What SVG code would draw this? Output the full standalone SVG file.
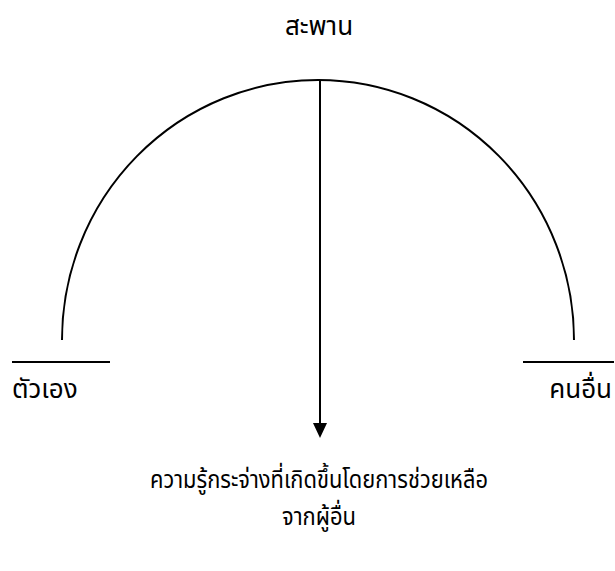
<svg xmlns="http://www.w3.org/2000/svg" width="615" height="571" viewBox="0 0 615 571">
<defs>
<style>
.t{font-family:"Noto Sans Thai","Noto Sans",sans-serif;fill:#000;font-weight:normal}
.s{font-size:26px}
.b{font-size:25px}
.l{stroke:#000;stroke-width:2;fill:none}
</style>
</defs>
<rect width="615" height="571" fill="#fff"/>
<g id="connectors">
<path class="l" d="M62,340 A256,260 0 0 1 574,340"/>
<line class="l" x1="12" y1="362" x2="110" y2="362"/>
<line class="l" x1="523" y1="362" x2="614" y2="362"/>
<line class="l" x1="320" y1="80" x2="320" y2="424"/>
<path d="M313,423 L327,423 L320,438 Z" fill="#000"/>
</g>
<g id="top"><text class="t s" x="319" y="35" text-anchor="middle">สะพาน</text></g>
<g id="left"><text class="t s" x="12" y="398">ตัวเอง</text></g>
<g id="right"><text class="t s" x="612" y="398" text-anchor="end">คนอื่น</text></g>
<g id="bottom">
<text class="t b" x="150" y="488" textLength="338" lengthAdjust="spacingAndGlyphs">ความรู้กระจ่างที่เกิดขึ้นโดยการช่วยเหลือ</text>
<text class="t b" x="282" y="525" textLength="74" lengthAdjust="spacingAndGlyphs">จากผู้อื่น</text>
</g>
</svg>
